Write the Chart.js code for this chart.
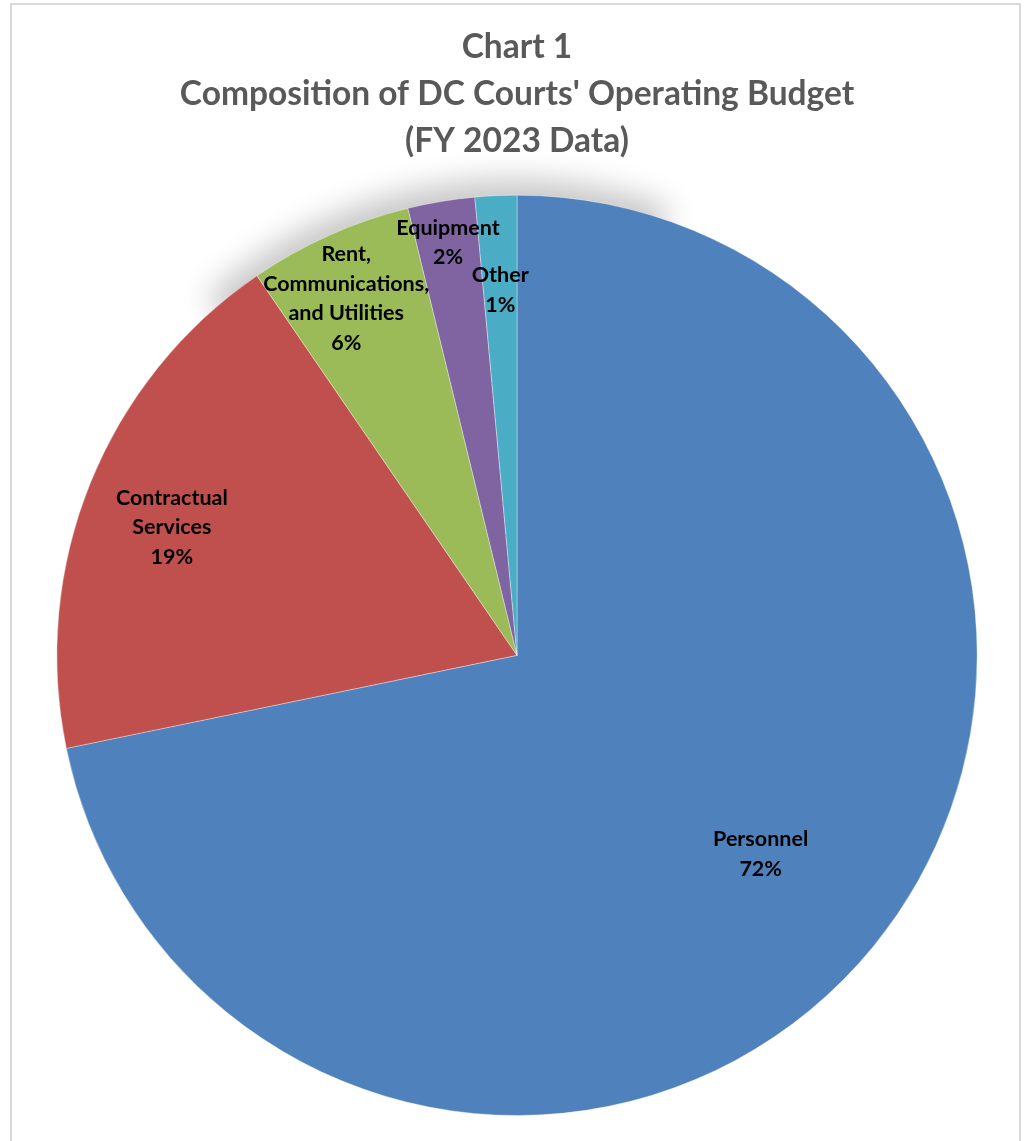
<!DOCTYPE html>
<html>
<head>
<meta charset="utf-8">
<script src="https://cdn.jsdelivr.net/npm/chart.js@4"></script>
<style>
    html, body { margin: 0; padding: 0; background: #ffffff; overflow: hidden; }
    #frame {
        position: absolute; left: 10px; top: 3px; width: 1011px; height: 1160px;
        border: 2px solid #d9d9d9; box-sizing: border-box;
    }
    #wrap { position: absolute; left: 0; top: 0; width: 1028px; height: 1141px; }
</style>
</head>
<body>
<div id="frame"></div>
<div id="wrap"><canvas id="chart"></canvas></div>
<script>
// values (share of budget, %)
const categories = ["Personnel", "Contractual Services", "Rent, Communications, and Utilities", "Equipment", "Other"];
const shares = [71.76, 18.68, 5.75, 2.35, 1.46];
const sliceColors = ["#4f81bd", "#c0504d", "#9bbb59", "#8064a2", "#4bacc6"];

// label text broken as in the picture
const labelLines = [
    ["Personnel"],
    ["Contractual", "Services"],
    ["Rent,", "Communications,", "and Utilities"],
    ["Equipment"],
    ["Other"]
];
// where each label sits: fraction of radius along the slice middle, plus a small turn (degrees)
const labelRadius = [0.683, 0.80, 0.86, 0.91, 0.795];
const labelTurn = [0, -1.6, -1.5, 0, 0];

const titleLines = ["Chart 1", "Composition of DC Courts' Operating Budget", "(FY 2023 Data)"];

const FONT = "Lato, 'Open Sans', sans-serif";

// soft shadow over the top-left rim, like the Excel one
const rimShadow = {
    id: "rimShadow",
    beforeDatasetsDraw(chart) {
        const arc = chart.getDatasetMeta(0).data[0];
        const { x, y, outerRadius } = arc.getProps(["x", "y", "outerRadius"], true);
        const ctx = chart.ctx;
        ctx.save();
        ctx.shadowColor = "rgba(0,0,0,0.22)";
        ctx.shadowBlur = 30;
        ctx.shadowOffsetX = -4;
        ctx.shadowOffsetY = -18;
        ctx.fillStyle = "#ffffff";
        ctx.beginPath();
        ctx.moveTo(x, y);
        ctx.arc(x, y, outerRadius - 2, Math.PI * 228 / 180, Math.PI * 290 / 180);
        ctx.closePath();
        ctx.fill();
        ctx.restore();
    }
};

const sliceLabels = {
    id: "sliceLabels",
    afterDatasetsDraw(chart) {
        const ctx = chart.ctx;
        const meta = chart.getDatasetMeta(0);
        const total = shares.reduce((a, b) => a + b, 0);
        ctx.save();
        ctx.fillStyle = "#000000";
        ctx.font = "bold 21.5px " + FONT;
        ctx.textAlign = "center";
        ctx.textBaseline = "middle";
        meta.data.forEach((arc, i) => {
            const p = arc.getProps(["x", "y", "startAngle", "endAngle", "outerRadius"], true);
            const mid = (p.startAngle + p.endAngle) / 2 + labelTurn[i] * Math.PI / 180;
            const r = p.outerRadius * labelRadius[i];
            const cx = p.x + Math.cos(mid) * r;
            const cy = p.y + Math.sin(mid) * r;
            const lines = labelLines[i].concat([Math.round(shares[i] / total * 100) + "%"]);
            const lh = 29.5;
            lines.forEach((t, k) => {
                ctx.fillText(t, cx, cy + (k - (lines.length - 1) / 2) * lh);
            });
        });
        ctx.restore();
    }
};

new Chart(document.getElementById("chart"), {
    type: "pie",
    data: {
        labels: categories,
        datasets: [{
            data: shares,
            backgroundColor: sliceColors,
            borderColor: "rgba(255,255,255,0.35)",
            borderWidth: 1
        }]
    },
    options: {
        responsive: true,
        maintainAspectRatio: false,
        animation: false,
        layout: { padding: { left: 6, right: 0, bottom: 25 } },
        plugins: {
            legend: { display: false },
            tooltip: { enabled: false },
            title: {
                display: true,
                text: titleLines,
                color: "#595959",
                font: { family: FONT, size: 33.5, weight: "bold", lineHeight: 1.4 },
                padding: { top: 24, bottom: 30 }
            }
        }
    },
    plugins: [rimShadow, sliceLabels]
});
</script>
</body>
</html>
